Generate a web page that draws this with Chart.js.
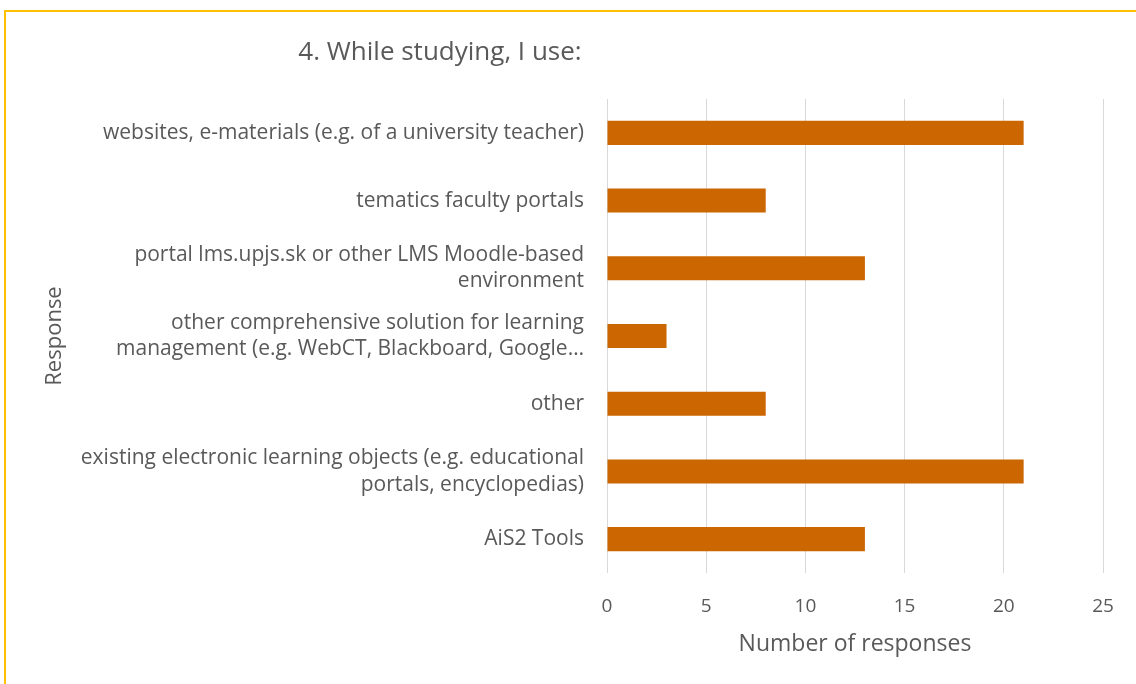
<!DOCTYPE html>
<html>
<head>
<meta charset="utf-8">
<script src="https://cdn.jsdelivr.net/npm/chart.js@4"></script>
<style>
  html, body { margin: 0; padding: 0; background: #fff; }
  #wrap { position: relative; width: 1136px; height: 684px; overflow: hidden; }
  #frame { position: absolute; left: 4px; top: 10px; width: 1200px; height: 800px;
           border-left: 2px solid #FFC000; border-top: 2px solid #FFC000; }
  #myChart { position: absolute; left: 0; top: 0; }
</style>
</head>
<body>
<div id="wrap">
  <div id="frame"></div>
  <canvas id="myChart" width="1136" height="684"></canvas>
</div>
<script>
const chartTitle = '4. While studying, I use:';
const categories = [
    'websites, e-materials (e.g. of a university teacher)',
    'tematics faculty portals',
    ['portal lms.upjs.sk or other LMS Moodle-based', 'environment'],
    ['other comprehensive solution for learning', 'management (e.g. WebCT, Blackboard, Google…'],
    'other',
    ['existing electronic learning objects (e.g. educational', 'portals, encyclopedias)'],
    'AiS2 Tools',
];
const responses = [21, 8, 13, 3, 8, 21, 13];
const xTicks = [0, 5, 10, 15, 20, 25];

const textColor = '#595959';
const fontFamily = '"Open Sans", sans-serif';

// title is drawn by hand so it can sit left of centre like the original
const titlePlugin = {
    id: 'offsetTitle',
    afterDraw(chart) {
        const c = chart.ctx;
        c.save();
        c.font = '26px ' + fontFamily;
        c.fillStyle = textColor;
        c.textAlign = 'center';
        c.textBaseline = 'middle';
        c.fillText(chartTitle, 440, 53);
        c.restore();
    }
};

var ctx = document.getElementById('myChart').getContext('2d');
var myChart = new Chart(ctx, {
    type: 'bar',
    data: {
        labels: categories,
        datasets: [{
            label: 'Number of responses',
            data: responses,
            backgroundColor: '#CC6600',
            borderWidth: 0,
            barPercentage: 0.355,
            categoryPercentage: 1,
        }]
    },
    options: {
        indexAxis: 'y',
        responsive: false,
        animation: false,
        layout: { padding: { left: 38, right: 33, top: 99, bottom: 0 } },
        plugins: {
            legend: { display: false },
            tooltip: { enabled: false },
        },
        scales: {
            x: {
                min: 0,
                max: 25,
                afterBuildTicks(scale) {
                    scale.ticks = xTicks.map(v => ({ value: v }));
                },
                afterFit(scale) { scale.height = 111; },
                grid: { color: '#D9D9D9', drawTicks: false },
                border: { display: false },
                ticks: {
                    color: textColor,
                    padding: 22,
                    font: { family: fontFamily, size: 19 },
                },
                title: {
                    display: true,
                    text: 'Number of responses',
                    color: textColor,
                    padding: 26,
                    font: { family: fontFamily, size: 23 },
                },
            },
            y: {
                afterFit(scale) { scale.width = 569; },
                grid: { display: false, drawTicks: false },
                border: { display: false },
                ticks: {
                    color: textColor,
                    padding: 23,
                    autoSkip: false,
                    font: { family: fontFamily, size: 21, lineHeight: 1.25 },
                },
                title: {
                    display: true,
                    text: 'Response',
                    color: textColor,
                    padding: 4,
                    font: { family: fontFamily, size: 22 },
                },
            },
        },
    },
    plugins: [titlePlugin],
});
</script>
</body>
</html>
